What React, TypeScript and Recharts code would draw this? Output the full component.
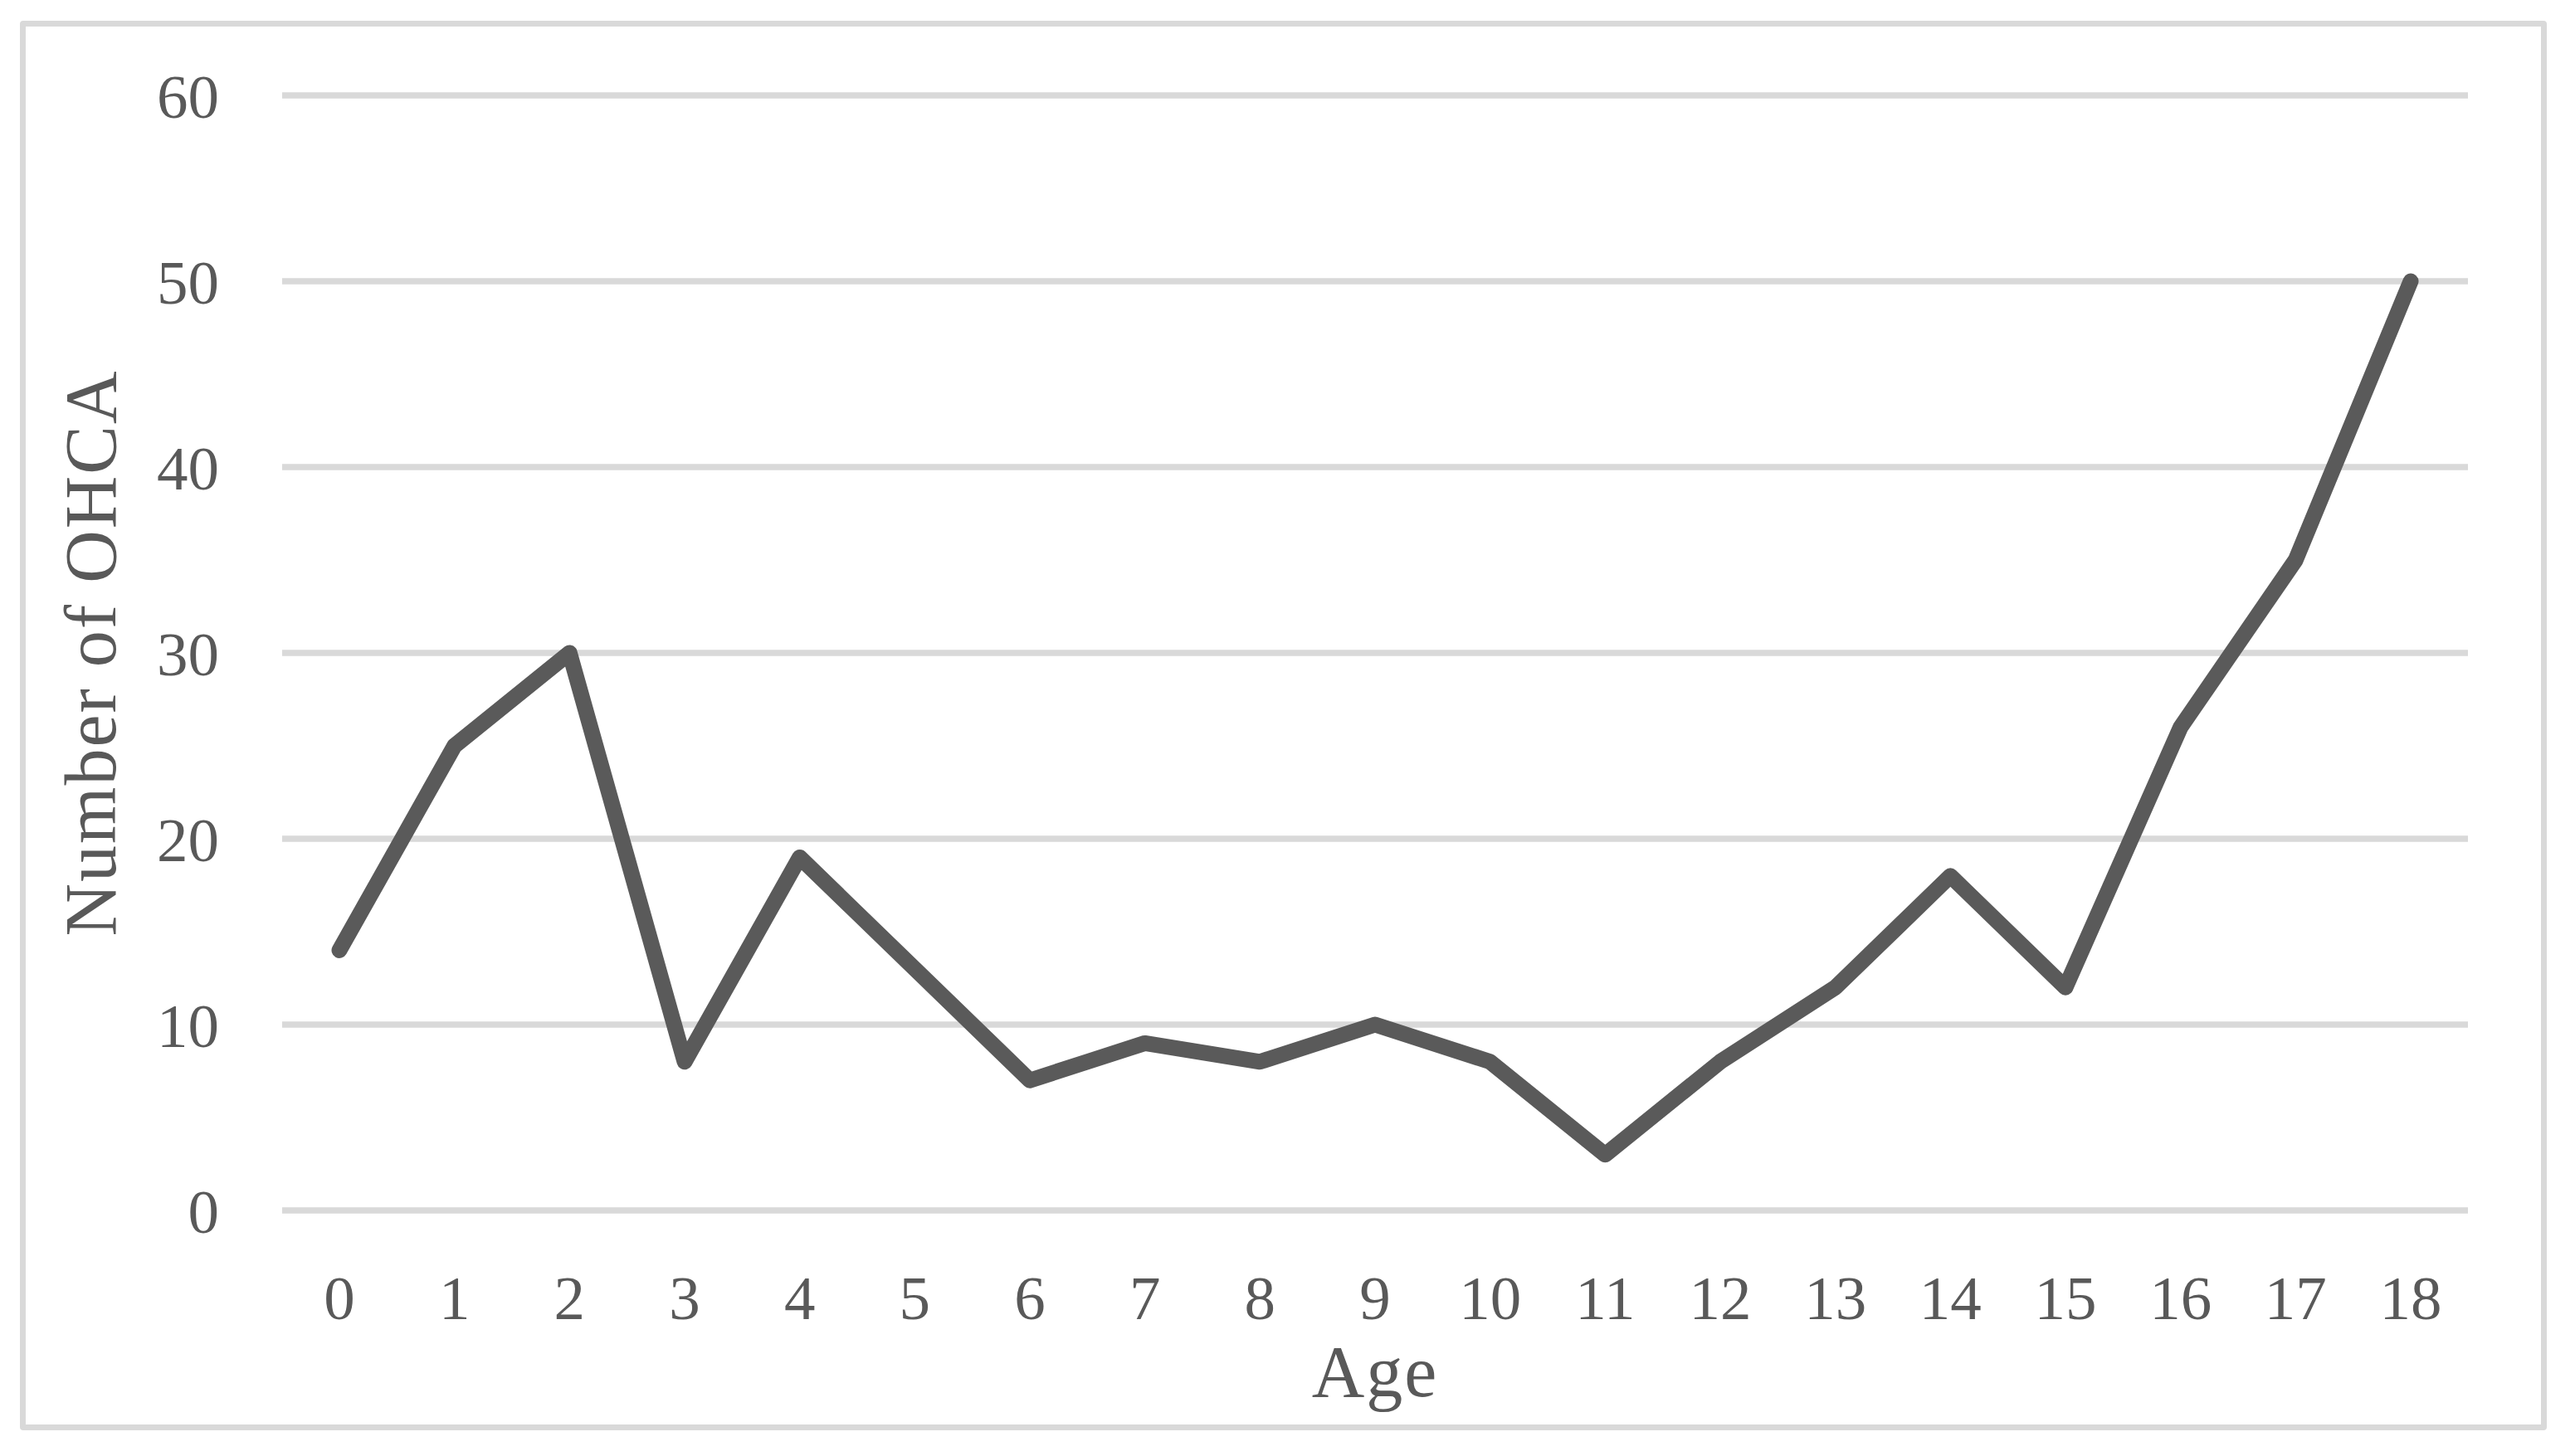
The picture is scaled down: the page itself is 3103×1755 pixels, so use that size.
import React from 'react';
import { LineChart, Line, XAxis, YAxis, CartesianGrid } from 'recharts';

const ages: string[] = ['0', '1', '2', '3', '4', '5', '6', '7', '8', '9', '10', '11', '12', '13', '14', '15', '16', '17', '18'];
const ohcaCounts: number[] = [14, 25, 30, 8, 19, 13, 7, 9, 8, 10, 8, 3, 8, 12, 18, 12, 26, 35, 50];
const yTicks: number[] = [0, 10, 20, 30, 40, 50, 60];
const xTitle = 'Age';
const yTitle = 'Number of OHCA';

const data = ages.map((a, i) => ({ age: a, count: ohcaCounts[i] }));

const FONT = '"Liberation Serif", "Times New Roman", serif';
const TEXT = '#595959';

const XTitle = (props: any) => {
  const vb = props.viewBox || {};
  const cx = vb.x + vb.width / 2;
  return (
    <text x={cx} y={vb.y + 224} textAnchor="middle" fill={TEXT} fontFamily={FONT} fontSize={88} letterSpacing={2}>
      {xTitle}
    </text>
  );
};

const YTitle = (props: any) => {
  const vb = props.viewBox || {};
  const cy = vb.y + vb.height / 2;
  const x = 139;
  return (
    <text x={x} y={cy} textAnchor="middle" fill={TEXT} fontFamily={FONT} fontSize={88} letterSpacing={2} transform={`rotate(-90 ${x} ${cy})`}>
      {yTitle}
    </text>
  );
};

export default function App() {
  return (
    <div style={{ position: 'absolute', left: 0, top: 0, width: 3103, height: 1755, background: '#fff' }}>
      <div
        style={{
          position: 'absolute',
          left: 24,
          top: 25,
          width: 3045,
          height: 1699,
          boxSizing: 'border-box',
          border: '7.5px solid #d9d9d9',
          borderRadius: 4,
        }}
      />
      <div style={{ position: 'absolute', left: 0, top: 0 }}>
        <LineChart width={3103} height={1755} data={data} margin={{ top: 115, right: 129, bottom: 0, left: 0 }}>
          <CartesianGrid vertical={false} stroke="#d9d9d9" strokeWidth={7.5} />
          <XAxis
            dataKey="age"
            interval={0}
            height={296}
            padding={{ left: 69, right: 69 }}
            axisLine={false}
            tickLine={false}
            tickSize={0}
            tickMargin={78}
            tick={{ fill: TEXT, fontFamily: FONT, fontSize: 75 }}
            label={{ content: <XTitle /> }}
          />
          <YAxis
            width={340}
            domain={[0, 60]}
            ticks={yTicks}
            interval={0}
            axisLine={false}
            tickLine={false}
            tickSize={0}
            tickMargin={76}
            tick={{ fill: TEXT, fontFamily: FONT, fontSize: 75 }}
            label={{ content: <YTitle /> }}
          />
          <Line
            type="linear"
            dataKey="count"
            stroke="#5a5a5a"
            strokeWidth={19}
            strokeLinecap="round"
            strokeLinejoin="round"
            dot={false}
            activeDot={false}
            isAnimationActive={false}
          />
        </LineChart>
      </div>
    </div>
  );
}
